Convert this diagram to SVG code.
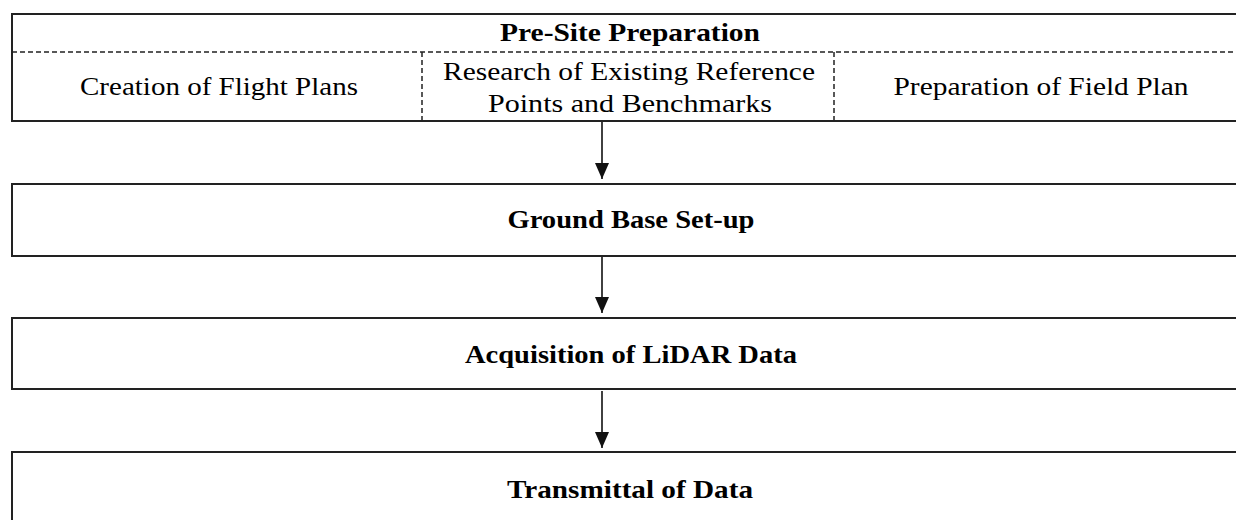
<svg xmlns="http://www.w3.org/2000/svg" width="1236" height="520" viewBox="0 0 1236 520">
<style>
.box{fill:#fff;stroke:#222;stroke-width:2}
.dash{fill:none;stroke:#222;stroke-width:1.5;stroke-dasharray:5 3}
.t{font-family:"Liberation Serif","Times New Roman",serif;font-size:26px;fill:#000}
.b{font-weight:bold}
.conn{stroke:#111;stroke-width:1.6;fill:none}
</style>
<defs>
<marker id="ah" viewBox="0 0 16 14" refX="16" refY="7" markerWidth="16" markerHeight="14" markerUnits="userSpaceOnUse" orient="auto">
<path d="M0,0 L16,7 L0,14 Z" fill="#111"/>
</marker>
</defs>
<rect width="1236" height="520" fill="#fff"/>
<g id="pre-site">
<rect class="box" x="12" y="14" width="1236" height="107"/>
<line class="dash" x1="12" y1="52" x2="1248" y2="52"/>
<line class="dash" x1="422" y1="52" x2="422" y2="121"/>
<line class="dash" x1="834" y1="52" x2="834" y2="121"/>
<text class="t b" x="630" y="41" text-anchor="middle" textLength="260" lengthAdjust="spacingAndGlyphs">Pre-Site Preparation</text>
<text class="t" x="219" y="95" text-anchor="middle" textLength="278" lengthAdjust="spacingAndGlyphs">Creation of Flight Plans</text>
<text class="t" x="629" y="80" text-anchor="middle" textLength="372" lengthAdjust="spacingAndGlyphs">Research of Existing Reference</text>
<text class="t" x="630" y="112" text-anchor="middle" textLength="284" lengthAdjust="spacingAndGlyphs">Points and Benchmarks</text>
<text class="t" x="1041" y="95" text-anchor="middle" textLength="295" lengthAdjust="spacingAndGlyphs">Preparation of Field Plan</text>
</g>
<g id="ground-base">
<rect class="box" x="12" y="184" width="1236" height="72"/>
<text class="t b" x="631" y="228" text-anchor="middle" textLength="247" lengthAdjust="spacingAndGlyphs">Ground Base Set-up</text>
</g>
<g id="acquisition">
<rect class="box" x="12" y="318" width="1236" height="71"/>
<text class="t b" x="631" y="363" text-anchor="middle" textLength="332" lengthAdjust="spacingAndGlyphs">Acquisition of LiDAR Data</text>
</g>
<g id="transmittal">
<rect class="box" x="12" y="452" width="1236" height="90"/>
<text class="t b" x="630" y="498" text-anchor="middle" textLength="246" lengthAdjust="spacingAndGlyphs">Transmittal of Data</text>
</g>
<g id="connectors">
<line class="conn" x1="602" y1="122" x2="602" y2="179" marker-end="url(#ah)"/>
<line class="conn" x1="602" y1="257" x2="602" y2="313" marker-end="url(#ah)"/>
<line class="conn" x1="602" y1="391" x2="602" y2="448" marker-end="url(#ah)"/>
</g>
</svg>
